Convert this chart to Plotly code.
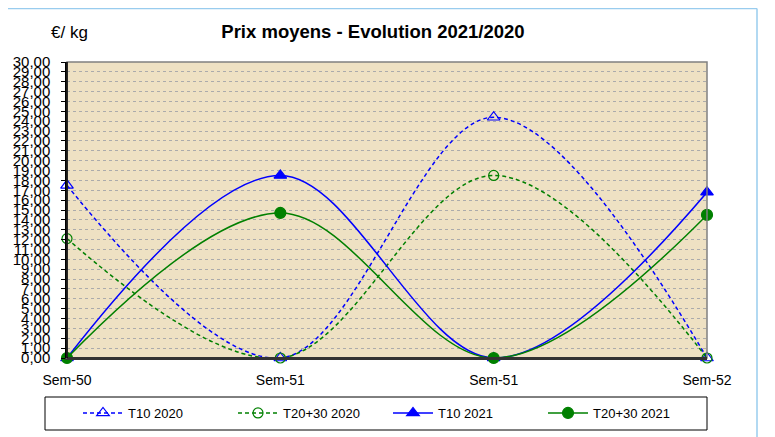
import plotly.graph_objects as go

weeks = ["Sem-50", "Sem-51", "Sem-51", "Sem-52"]
t10_2020 = [17.5, 0.0, 24.4, 0.0]
t2030_2020 = [12.1, 0.0, 18.5, 0.0]
t10_2021 = [0.0, 18.5, 0.0, 16.8]
t2030_2021 = [0.0, 14.7, 0.0, 14.5]
yticks = list(range(0, 31))

xpos = list(range(len(weeks)))
FONT = "Liberation Sans, Arial, sans-serif"

# page body has an 8px margin: figure is drawn from (8, 8)
OFF = 8
W, H = 775 - OFF, 437 - OFF
PL, PR, PT, PB = 67 - OFF, 707 - OFF, 62 - OFF, 358 - OFF  # plot area in figure coords
PW, PH = PR - PL, PB - PT


def px(xs):
    return (xs - OFF - PL) / PW


def py(ys):
    return (PB - (ys - OFF)) / PH


fig = go.Figure()
series = [
    ("T10 2020", t10_2020, "#0000FF", "4px,3px", "triangle-up-open", 11),
    ("T20+30 2020", t2030_2020, "#008000", "4px,3px", "circle-open", 10),
    ("T10 2021", t10_2021, "#0000FF", "solid", "triangle-up", 11),
    ("T20+30 2021", t2030_2021, "#008000", "solid", "circle", 11),
]
for name, vals, col, dash, sym, sz in series:
    fig.add_trace(go.Scatter(
        x=xpos, y=vals, name=name, mode="lines+markers",
        line=dict(color=col, width=1.5, dash=dash, shape="spline", smoothing=1.0),
        marker=dict(symbol=sym, size=sz, color=col, line=dict(color=col, width=1.2)),
        cliponaxis=False,
    ))

fig.update_layout(
    width=W, height=H,
    margin=dict(l=PL, r=W - PR, t=PT, b=H - PB, autoexpand=False),
    paper_bgcolor="white",
    plot_bgcolor="#EEE1C3",
    separators=",.",
    font=dict(family=FONT, size=13, color="black"),
    title=dict(text="<b>Prix moyens - Evolution 2021/2020</b>", x=(373 - OFF) / W, xanchor="center",
               y=1 - (32 - OFF) / H, yanchor="middle", font=dict(size=18.5, family=FONT)),
    showlegend=True,
    legend=dict(orientation="h", x=px(78), xanchor="left", y=py(398), yanchor="top",
                borderwidth=0, bgcolor="rgba(0,0,0,0)",
                entrywidth=100, entrywidthmode="pixels",
                font=dict(size=13, family=FONT), itemwidth=40),
    xaxis=dict(range=[0, 3], tickvals=xpos, ticktext=weeks, showgrid=False, zeroline=False,
               showline=True, linecolor="#333333", linewidth=2, ticks="", tickfont=dict(size=14),
               ticklabelstandoff=8),
    yaxis=dict(range=[0, 30], tickvals=yticks, tickformat=".2f", showgrid=True,
               gridcolor="#ababab", griddash="dot", gridwidth=1, zeroline=False,
               showline=True, linecolor="black", linewidth=1.5, ticks="outside", ticklen=4,
               tickcolor="black", tickfont=dict(size=15), ticklabelstandoff=8),
    shapes=[
        dict(type="rect", xref="paper", yref="paper", x0=0, x1=1, y0=0, y1=1,
             line=dict(color="#808080", width=1.5), layer="above"),
        dict(type="line", xref="paper", yref="paper", x0=0, x1=1, y0=0, y1=0,
             line=dict(color="#333333", width=2), layer="above"),
        dict(type="line", xref="paper", yref="paper", x0=0, x1=0, y0=0, y1=1,
             line=dict(color="black", width=1.5), layer="above"),
        dict(type="rect", xref="paper", yref="paper",
             x0=px(45), x1=px(707), y0=py(430), y1=py(397),
             line=dict(color="black", width=1), fillcolor="white", layer="below"),
        dict(type="line", xref="paper", yref="paper",
             x0=px(757), x1=px(757), y0=py(445), y1=py(8.5),
             line=dict(color="#99CCEE", width=1.5), layer="below"),
        dict(type="line", xref="paper", yref="paper",
             x0=px(0), x1=px(757), y0=py(8.5), y1=py(8.5),
             line=dict(color="#99CCEE", width=1.5), layer="below"),
    ],
    annotations=[
        dict(text="€/ kg", xref="paper", yref="paper", x=px(69), y=py(33),
             xanchor="center", yanchor="middle", showarrow=False, font=dict(size=17, family=FONT)),
    ],
)

fig.write_html("out.html")
